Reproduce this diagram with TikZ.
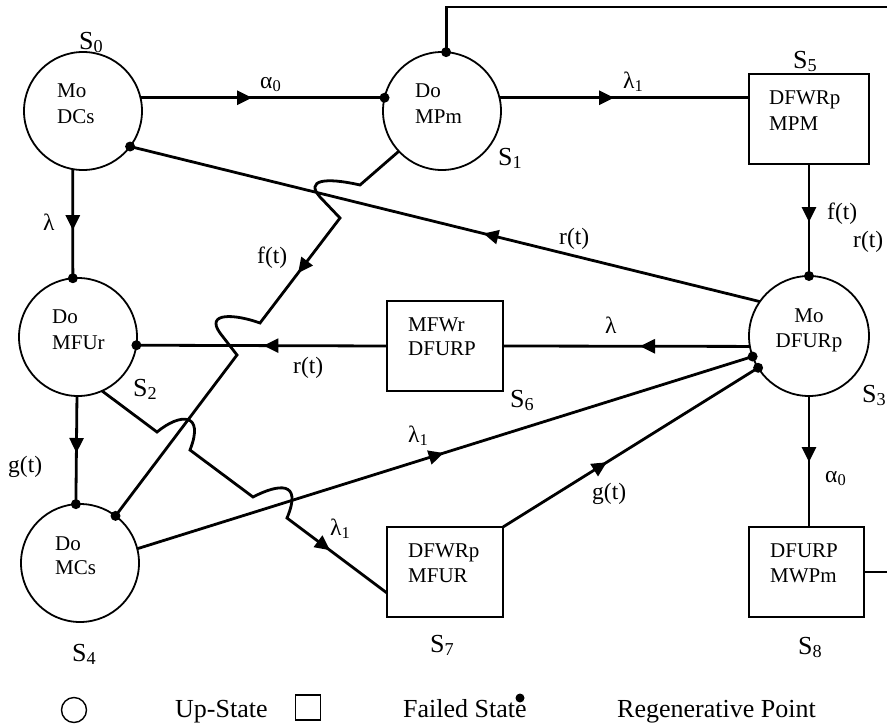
\documentclass[tikz,border=0pt]{standalone}
\usepackage{fontspec}
\setmainfont{Liberation Serif}
\usetikzlibrary{arrows.meta,decorations.markings,calc}
\begin{document}
\begin{tikzpicture}[x=1pt,y=-1pt,
  upstate/.style={circle,draw,line width=1.8pt,minimum size=118pt,inner sep=0pt,outer sep=0pt},
  fstate/.style={rectangle,draw,line width=1.8pt,inner sep=0pt,outer sep=0pt,minimum height=90pt},
  conn/.style={line width=2.8pt},
  arr/.style={postaction={decorate,decoration={markings,mark=at position #1 with {\arrow{Triangle[length=15pt,width=14pt]}}}}},
  intext/.style={anchor=base west,inner sep=0pt,font=\fontsize{21}{26}\selectfont},
  boxtext/.style={anchor=base west,inner sep=0pt,font=\fontsize{21}{25}\selectfont},
  elabel/.style={anchor=base west,inner sep=0pt,font=\fontsize{23.5}{28}\selectfont},
  slabel/.style={anchor=base west,inner sep=0pt,font=\fontsize{26}{30}\selectfont},
  legtext/.style={anchor=base west,inner sep=0pt,font=\fontsize{26}{30}\selectfont}
]
\useasboundingbox (0,0) rectangle (887,726);
\clip (0,0) rectangle (887,726);

% states
\node[upstate] (s0) at (83,111) {};
\node[upstate] (s1) at (442,111) {};
\node[upstate] (s2) at (78,337) {};
\node[upstate,minimum size=120pt] (s3) at (809,336) {};
\node[upstate] (s4) at (80,563) {};
\node[fstate,minimum width=120pt] (s5) at (809,119) {};
\node[fstate,minimum width=116pt] (s6) at (445,346) {};
\node[fstate,minimum width=116pt] (s7) at (445,572) {};
\node[fstate,minimum width=115pt] (s8) at (806.5,572) {};

% state texts
\node[intext] (s0t) at (57,97) {\begin{tabular}[t]{@{}l@{}}Mo\\DCs\end{tabular}};
\node[intext] (s1t) at (415,97) {\begin{tabular}[t]{@{}l@{}}Do\\MPm\end{tabular}};
\node[intext] (s2t) at (52,323) {\begin{tabular}[t]{@{}l@{}}Do\\MFUr\end{tabular}};
\node[intext,anchor=base] (s3t) at (809,322) {\fontsize{21}{25}\selectfont\begin{tabular}[t]{@{}c@{}}Mo\\DFURp\end{tabular}};
\node[intext] (s4t) at (55,550) {\fontsize{21}{24}\selectfont\begin{tabular}[t]{@{}l@{}}Do\\MCs\end{tabular}};
\node[boxtext] (s5t) at (769,104) {\fontsize{21}{26}\selectfont\begin{tabular}[t]{@{}l@{}}DFWRp\\MPM\end{tabular}};
\node[boxtext] (s6t) at (408,331) {\fontsize{21}{24}\selectfont\begin{tabular}[t]{@{}l@{}}MFWr\\DFURP\end{tabular}};
\node[boxtext] (s7t) at (408,557) {\begin{tabular}[t]{@{}l@{}}DFWRp\\MFUR\end{tabular}};
\node[boxtext] (s8t) at (770,557) {\begin{tabular}[t]{@{}l@{}}DFURP\\MWPm\end{tabular}};

% state labels
\node[slabel] (l0) at (79,49) {S\textsubscript{0}};
\node[slabel] (l1) at (498,165) {S\textsubscript{1}};
\node[slabel] (l5) at (793,68) {S\textsubscript{5}};
\node[slabel] (l2) at (133,396) {S\textsubscript{2}};
\node[slabel] (l6) at (510,407) {S\textsubscript{6}};
\node[slabel] (l3) at (862,402) {S\textsubscript{3}};
\node[slabel] (l4) at (72,661) {S\textsubscript{4}};
\node[slabel] (l7) at (430,652) {S\textsubscript{7}};
\node[slabel] (l8) at (798,654) {S\textsubscript{8}};

% helper coordinates
\coordinate (topy) at (0,7);
\coordinate (rx1) at (900,572);
\coordinate (rx2) at (900,7);
\coordinate (s7in) at ($(s7.south west)+(0,-24)$);

% connectors
\draw[conn,arr=0.457] (s0.13) -- (s1.167);
\draw[conn,arr=0.459] (s1.13) -- (s1.13 -| s5.west);
\draw[conn] (s8.east) -- (rx1) -- (rx2) -- (s1.86 |- topy) -- (s1.86);
\draw[conn,arr=0.518] (s5.south) -- (s3.north);
\draw[conn,arr=0.439] (s3.145) -- (s0.-37);
\draw[conn,arr=0.445] (s3.190) -- (s6.east);
\draw[conn,arr=0.493] (s6.west) -- (s2.-8);
\draw[conn,arr=0.56] (s0.-100) -- (s2.95);
\draw[conn,arr=0.527] (s2.-91) -- (s4.94);
\draw[conn] (s1.223) -- (360,185) .. controls (325,177) and (305,180) .. (320,197) -- (340,218) -- (260,323) .. controls (235,314) and (205,312) .. (220,333) -- (237,355) -- (s4.53);
\path[conn,arr=0.524] (340,218) -- (260,323);
\draw[conn] (s2.-66) -- (157,432) .. controls (180,413) and (205,412) .. (190,450) -- (253,497) .. controls (278,484) and (303,480) .. (287,518) -- (s7in);
\path[conn,arr=0.43] (287,518) -- (s7in);
\draw[conn,arr=0.498] (s4.14) -- (s3.200);
\draw[conn,arr=0.407] (s7.north east) -- (s3.212);
\draw[conn,arr=0.504] (s3.south) -- (s3.south |- s8.north);

% regenerative points
\foreach \p in {s1.167,s1.86,s3.north,s0.-37,s2.95,s2.-8,s4.94,s4.53,s3.200,s3.212}
  \fill (\p) circle[radius=5pt];

% edge labels
\node[elabel] (e1) at (260,88) {α\textsubscript{0}};
\node[elabel] (e2) at (623,88) {λ\textsubscript{1}};
\node[elabel] (e3) at (827,219) {f(t)};
\node[elabel] (e4) at (559,244) {r(t)};
\node[elabel] (e5) at (43,230) {λ};
\node[elabel] (e6) at (257,263) {f(t)};
\node[elabel] (e7) at (605,333) {λ};
\node[elabel] (e8) at (293,373) {r(t)};
\node[elabel] (e9) at (853,247) {r(t)};
\node[elabel] (e10) at (8,472) {g(t)};
\node[elabel] (e11) at (408,442) {λ\textsubscript{1}};
\node[elabel] (e12) at (592,499) {g(t)};
\node[elabel] (e13) at (330,535) {λ\textsubscript{1}};
\node[elabel] (e14) at (825,482) {α\textsubscript{0}};

% legend
\node[circle,draw,line width=1.4pt,minimum size=25pt,inner sep=0pt] (lc) at (74,710) {};
\node[legtext] (lt1) at (175,717) {Up-State};
\node[rectangle,draw,line width=1.4pt,minimum size=25pt,inner sep=0pt] (lsq) at (308,707.5) {};
\node[legtext] (lt2) at (403,717) {Failed State};
\node[circle,fill,inner sep=0pt,minimum size=9pt] (ldot) at (520,698) {};
\node[legtext] (lt3) at (617,717) {Regenerative Point};
\end{tikzpicture}
\end{document}
